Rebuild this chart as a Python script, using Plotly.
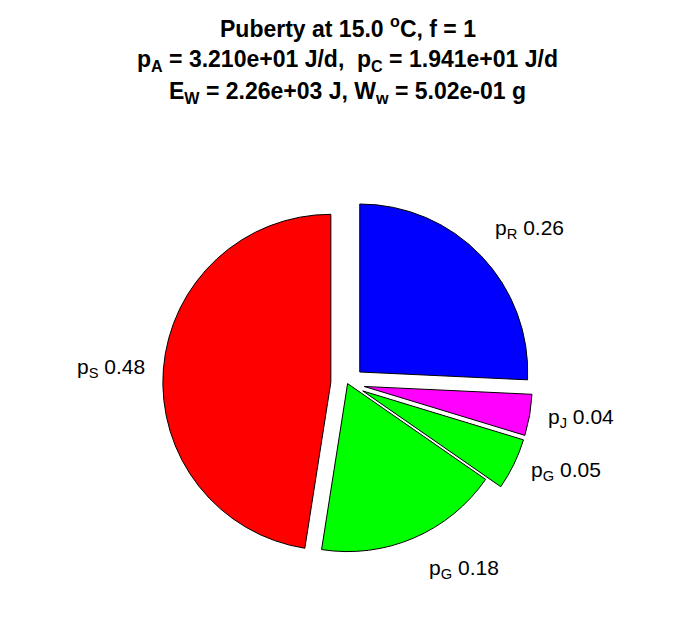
import math
import plotly.graph_objects as go

# Data
names = ["p<sub>R</sub>", "p<sub>J</sub>", "p<sub>G</sub>", "p<sub>G</sub>", "p<sub>S</sub>"]
fractions = [0.26, 0.04, 0.05, 0.18, 0.48]
exploded = [0.1, 0.1, 0.1, 0.0, 0.1]
colors = ["#0000FF", "#FF00FF", "#00FF00", "#00FF00", "#FF0000"]
title_lines = [
    "Puberty at 15.0 <sup>o</sup>C, f = 1",
    "p<sub>A</sub> = 3.210e+01 J/d, &nbsp;p<sub>C</sub> = 1.941e+01 J/d",
    "E<sub>W</sub> = 2.26e+03 J, W<sub>w</sub> = 5.02e-01 g",
]

W, H = 680, 602
FONT = "Liberation Sans, Arial, Helvetica, sans-serif"

# pie box (pixels in figure)
cx_px, cy_px, r_px = 339.6, 375.6, 168.0
half = r_px * (1 + max(exploded))
dom_x = [(cx_px - half) / W, (cx_px + half) / W]
dom_y = [(H - cy_px - half) / H, (H - cy_px + half) / H]

fig = go.Figure(go.Pie(
    values=fractions,
    labels=[f"s{i}" for i in range(len(fractions))],
    textinfo="none",
    sort=False,
    direction="clockwise",
    rotation=0,
    pull=exploded,
    marker=dict(colors=colors, line=dict(color="black", width=1)),
    hoverinfo="skip",
    showlegend=False,
    domain=dict(x=dom_x, y=dom_y),
))

# labels placed at 1.2 radius along each slice's bisector (computed from the data)
total = sum(fractions)
cum = 0.0
cxp = (dom_x[0] + dom_x[1]) / 2
cyp = (dom_y[0] + dom_y[1]) / 2
for n, v in zip(names, fractions):
    mid = (cum + v / 2) / total * 2 * math.pi
    cum += v
    s, c = math.sin(mid), math.cos(mid)
    x = cxp + 1.2 * r_px * s / W
    y = cyp + 1.2 * r_px * c / H
    fig.add_annotation(
        text=f"{n} {v:.2f}", x=x, y=y, xref="paper", yref="paper",
        xanchor="left" if s >= 0 else "right",
        yanchor="bottom" if c >= 0.5 else "middle",
        showarrow=False, font=dict(family=FONT, size=21, color="black"),
    )

ys = [19, 52, 85]
for t, y in zip(title_lines, ys):
    fig.add_annotation(text=f"<b>{t}</b>", x=cxp, y=1 - y / H, xref="paper", yref="paper",
                       xanchor="center", yanchor="middle", showarrow=False,
                       font=dict(family=FONT, size=23, color="black"))

fig.update_layout(
    width=W, height=H,
    margin=dict(l=0, r=0, t=0, b=0),
    paper_bgcolor="white", plot_bgcolor="white",
)
fig.write_html("out.html")
